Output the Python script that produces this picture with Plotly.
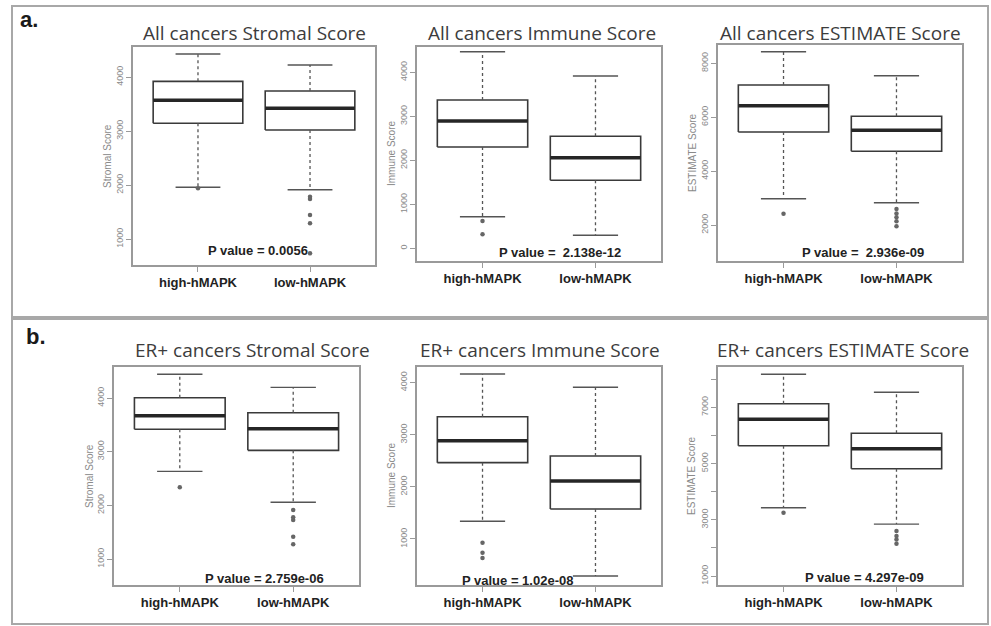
import plotly.graph_objects as go

W, H = 991, 626

groups = ["high-hMAPK", "low-hMAPK"]
titles = ["All cancers Stromal Score", "All cancers Immune Score", "All cancers ESTIMATE Score",
          "ER+ cancers Stromal Score", "ER+ cancers Immune Score", "ER+ cancers ESTIMATE Score"]
ytitles = ["Stromal Score", "Immune Score", "ESTIMATE Score",
           "Stromal Score", "Immune Score", "ESTIMATE Score"]
pvalues = ["P value = 0.0056", "P value =  2.138e-12", "P value =  2.936e-09",
           "P value = 2.759e-06", "P value = 1.02e-08", "P value = 4.297e-09"]
panel_labels = ["a.", "b."]

# per panel: [high-hMAPK, low-hMAPK]
lower_whisker = [[1960, 1913], [718, 295], [2976, 2828], [2634, 2057], [1340, 290], [3427, 2847]]
q1 = [[3143, 3019], [2302, 1545], [5451, 4735], [3417, 3025], [2465, 1576], [5633, 4815]]
median = [[3569, 3420], [2893, 2059], [6427, 5514], [3670, 3428], [2887, 2113], [6573, 5527]]
q3 = [[3920, 3741], [3370, 2545], [7195, 6033], [4005, 3726], [3347, 2593], [7128, 6075]]
upper_whisker = [[4426, 4222], [4468, 3916], [8430, 7540], [4442, 4199], [4167, 3912], [8174, 7534]]
outliers = [
    [[1940], [1784, 1741, 1444, 1290, 735]],
    [[620, 318], []],
    [[2420], [2590, 2430, 2290, 2140, 1950]],
    [[2336], [1913, 1777, 1727, 1416, 1274]],
    [[929, 737, 635], []],
    [[3249], [2598, 2420, 2302, 2146]],
]

y_ranges = [[519, 4556], [-289, 4575], [664, 8679], [516, 4578], [117, 4301], [680, 8434]]
y_tickvals = [[1000, 2000, 3000, 4000], [0, 1000, 2000, 3000, 4000], [2000, 4000, 6000, 8000],
              [1000, 2000, 3000, 4000], [1000, 2000, 3000, 4000],
              [1000, 2000, 3000, 4000, 5000, 6000, 7000, 8000]]
y_ticktext = [["1000", "2000", "3000", "4000"], ["0", "1000", "2000", "3000", "4000"],
              ["2000", "4000", "6000", "8000"], ["1000", "2000", "3000", "4000"],
              ["1000", "2000", "3000", "4000"],
              ["1000", "", "3000", "", "5000", "", "7000", ""]]

# layout (pixels)
plot_boxes = [(133, 375, 47, 265), (417, 661, 47, 261), (718, 962, 45, 261),
              (114, 359, 367, 585), (417, 661, 367, 585), (718, 962, 367, 585)]
title_pos = [(254, 33), (542, 33), (840, 33), (252, 350), (540, 350), (843, 350)]
ytitle_x = [107, 392, 692, 89, 391, 691]
pval_pos = [(258, 251), (560, 253), (863, 253), (264, 578), (517, 580), (864, 577)]

BOX_HALF = 0.4
CAP_HALF = 0.2
LINE = "#3a3a3a"
GRAY = "#9a9a9a"


def px(x):
    return x / W


def py(y):
    return 1 - y / H


fig = go.Figure()

for p in range(6):
    ax = "" if p == 0 else str(p + 1)
    xref, yref = "x" + ax, "y" + ax
    for g in range(2):
        xc = g + 1
        # box
        fig.add_trace(go.Scatter(
            x=[xc - BOX_HALF, xc + BOX_HALF, xc + BOX_HALF, xc - BOX_HALF, xc - BOX_HALF],
            y=[q1[p][g], q1[p][g], q3[p][g], q3[p][g], q1[p][g]],
            mode="lines", line=dict(color=LINE, width=1.6),
            xaxis=xref, yaxis=yref, showlegend=False, hoverinfo="skip"))
        # whiskers
        fig.add_trace(go.Scatter(
            x=[xc, xc, None, xc, xc],
            y=[q3[p][g], upper_whisker[p][g], None, q1[p][g], lower_whisker[p][g]],
            mode="lines", line=dict(color="#555555", width=1.3, dash="3px,3px"),
            xaxis=xref, yaxis=yref, showlegend=False, hoverinfo="skip"))
        # caps
        fig.add_trace(go.Scatter(
            x=[xc - CAP_HALF, xc + CAP_HALF, None, xc - CAP_HALF, xc + CAP_HALF],
            y=[upper_whisker[p][g], upper_whisker[p][g], None,
               lower_whisker[p][g], lower_whisker[p][g]],
            mode="lines", line=dict(color="#555555", width=1.4),
            xaxis=xref, yaxis=yref, showlegend=False, hoverinfo="skip"))
        # median
        fig.add_trace(go.Scatter(
            x=[xc - BOX_HALF, xc + BOX_HALF], y=[median[p][g], median[p][g]],
            mode="lines", line=dict(color="#262626", width=3.5),
            xaxis=xref, yaxis=yref, showlegend=False, hoverinfo="skip"))
        # outliers
        if outliers[p][g]:
            fig.add_trace(go.Scatter(
                x=[xc] * len(outliers[p][g]), y=outliers[p][g],
                mode="markers", marker=dict(color="#666666", size=4.5, symbol="circle"),
                xaxis=xref, yaxis=yref, showlegend=False, hoverinfo="skip"))

    x0, x1, y0, y1 = plot_boxes[p]
    xa = dict(domain=[px(x0), px(x1)], range=[0.42, 2.58], anchor=yref,
              tickmode="array", tickvals=[1, 2], ticktext=groups,
              ticks="outside", ticklen=5, tickcolor=GRAY, tickwidth=1.2,
              tickfont=dict(family="Liberation Sans, Arial", size=13, color="#222222", weight="bold"),
              showline=True, mirror=True, linecolor=GRAY, linewidth=1.5,
              showgrid=False, zeroline=False, fixedrange=True)
    ya = dict(domain=[py(y1), py(y0)], range=y_ranges[p], anchor=xref,
              tickmode="array", tickvals=y_tickvals[p], ticktext=y_ticktext[p],
              tickangle=-90, ticks="outside", ticklen=5, tickcolor=GRAY, tickwidth=1.2,
              tickfont=dict(family="Liberation Sans, Arial", size=9, color="#8a8a8a"),
              showline=True, mirror=True, linecolor=GRAY, linewidth=1.5,
              showgrid=False, zeroline=False, fixedrange=True)
    fig.layout["xaxis" + ax] = xa
    fig.layout["yaxis" + ax] = ya

annotations = []
for p in range(6):
    tx, ty = title_pos[p]
    annotations.append(dict(x=px(tx), y=py(ty), xref="paper", yref="paper", text=titles[p],
                            showarrow=False, xanchor="center", yanchor="middle",
                            font=dict(family="Open Sans, Liberation Sans", size=19, color="#3c3c3c")))
    x0, x1, y0, y1 = plot_boxes[p]
    annotations.append(dict(x=px(ytitle_x[p]), y=py((y0 + y1) / 2), xref="paper", yref="paper",
                            text=ytitles[p], textangle=-90, showarrow=False,
                            xanchor="center", yanchor="middle",
                            font=dict(family="Liberation Sans, Arial", size=10, color="#8a8a8a")))
    vx, vy = pval_pos[p]
    annotations.append(dict(x=px(vx), y=py(vy), xref="paper", yref="paper", text="<b>" + pvalues[p] + "</b>",
                            showarrow=False, xanchor="center", yanchor="middle",
                            font=dict(family="Liberation Sans, Arial", size=13, color="#222222")))

annotations.append(dict(x=px(18), y=py(19), xref="paper", yref="paper", text="<b>a.</b>",
                        showarrow=False, xanchor="left", yanchor="middle",
                        font=dict(family="Liberation Sans, Arial", size=22, color="#1a1a1a")))
annotations.append(dict(x=px(24), y=py(336), xref="paper", yref="paper", text="<b>b.</b>",
                        showarrow=False, xanchor="left", yanchor="middle",
                        font=dict(family="Liberation Sans, Arial", size=22, color="#1a1a1a")))

shapes = [
    dict(type="rect", xref="paper", yref="paper", x0=px(12), x1=px(988), y0=py(317), y1=py(6),
         line=dict(color="#a8a8a8", width=2)),
    dict(type="rect", xref="paper", yref="paper", x0=px(12), x1=px(988), y0=py(624), y1=py(319),
         line=dict(color="#a8a8a8", width=2)),
]

fig.update_layout(width=W, height=H, margin=dict(l=0, r=0, t=0, b=0),
                  paper_bgcolor="white", plot_bgcolor="white",
                  annotations=annotations, shapes=shapes, showlegend=False)

fig.write_html("out.html", config={"displayModeBar": False},
               post_script="document.body.style.margin='0';document.body.style.overflow='hidden';")
